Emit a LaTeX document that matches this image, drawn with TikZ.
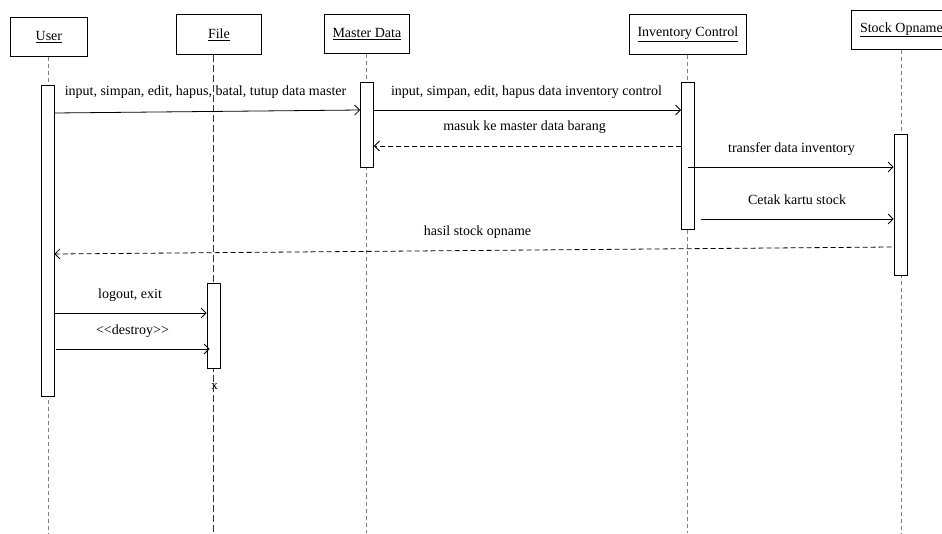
\documentclass[tikz,border=0pt]{standalone}
\usepackage{fontspec}
\setmainfont{Liberation Serif}
\usetikzlibrary{arrows.meta}
\tikzset{
  lbox/.style={draw, line width=0.8pt, fill=white, inner sep=0pt, font=\fontsize{14}{16}\selectfont},
  actbar/.style={draw, fill=white, line width=0.8pt, inner sep=0pt, minimum width=13pt},
  lline/.style={gray, line width=1pt, dash pattern=on 4pt off 3pt},
  fline/.style={black!80, line width=0.45pt, dash pattern=on 7pt off 3pt},
  msg/.style={-{Straight Barb[length=5pt,width=10pt]}, line width=0.8pt},
  retmsg/.style={msg, dash pattern=on 5pt off 3pt},
  lab/.style={font=\fontsize{14}{16}\selectfont, inner sep=0pt}
}
\begin{document}
\begin{tikzpicture}[x=1pt, y=-1pt]
\useasboundingbox (0,0) rectangle (942,533);
% lifeline heads
\node[lbox, minimum width=77pt, minimum height=39pt, anchor=north west] (user) at (10,17) {\underline{User}};
\node[lbox, minimum width=85pt, minimum height=40pt, anchor=north west] (file) at (176,14) {\underline{File}};
\node[lbox, minimum width=85pt, minimum height=39pt, anchor=north west] (master) at (324,14) {\underline{Master Data}};
\node[lbox, minimum width=117pt, minimum height=40pt, anchor=north west] (inv) at (629,14) {\underline{Inventory Control}};
\node[lbox, minimum width=100pt, minimum height=39pt, anchor=north west] (stock) at (851,10) {\underline{Stock Opname}};
% activation bar of File (position used for its lifeline)
\coordinate (fcol) at (213.5,0);
% lifelines
\draw[lline] (user.south) -- (user.south |- 0,533);
\draw[fline] (fcol |- file.south) -- (fcol |- 0,533);
\draw[lline] (master.south) -- (master.south |- 0,533);
\draw[lline] (inv.south) -- (inv.south |- 0,533);
\draw[lline] (stock.south) -- (stock.south |- 0,533);
% activation bars
\node[actbar, minimum height=311pt, anchor=north] (ubar) at (47.5,85) {};
\node[actbar, minimum height=85pt, anchor=north] (mbar) at (367,82) {};
\node[actbar, minimum height=147pt, anchor=north] (ibar) at (688,82) {};
\node[actbar, minimum height=141pt, anchor=north] (sbar) at (900.5,134) {};
\node[actbar, minimum height=85pt, anchor=north] (fbar) at (fcol |- 0,283) {};
% messages
\draw[msg] (ubar.east |- 0,113) -- (mbar.west |- 0,110);
\node[lab] (l1) at (205.5,92) {input, simpan, edit, hapus, batal, tutup data master};
\draw[msg] (mbar.east |- 0,110) -- (ibar.west |- 0,110);
\node[lab] (l2) at (526.5,92) {input, simpan, edit, hapus data inventory control};
\draw[retmsg] (ibar.west |- 0,146) -- (mbar.east |- 0,146);
\node[lab] (l3) at (524.5,127) {masuk ke master data barang};
\draw[msg] (ibar.center |- 0,167) -- (sbar.west |- 0,167);
\node[lab] (l4) at (791.5,149) {transfer data inventory};
\draw[msg] ([xshift=6pt]ibar.east |- 0,219) -- (sbar.west |- 0,219);
\node[lab] (l5) at (797,200) {Cetak kartu stock};
\draw[retmsg] ([xshift=-2pt]sbar.west |- 0,247) -- (ubar.east |- 0,254);
\node[lab] (l6) at (477.5,232) {hasil stock opname};
\draw[msg] (ubar.east |- 0,313) -- (fbar.west |- 0,313);
\node[lab] (l7) at (130,295) {logout, exit};
\draw[msg] ([xshift=2pt]ubar.east |- 0,349) -- ([xshift=3pt]fbar.west |- 0,349);
\node[lab] (l8) at (132.5,331) {<{}<destroy>{}>};
\node[lab, font=\fontsize{13}{15}\selectfont] (xend) at (214.5,387) {x};
\end{tikzpicture}
\end{document}
